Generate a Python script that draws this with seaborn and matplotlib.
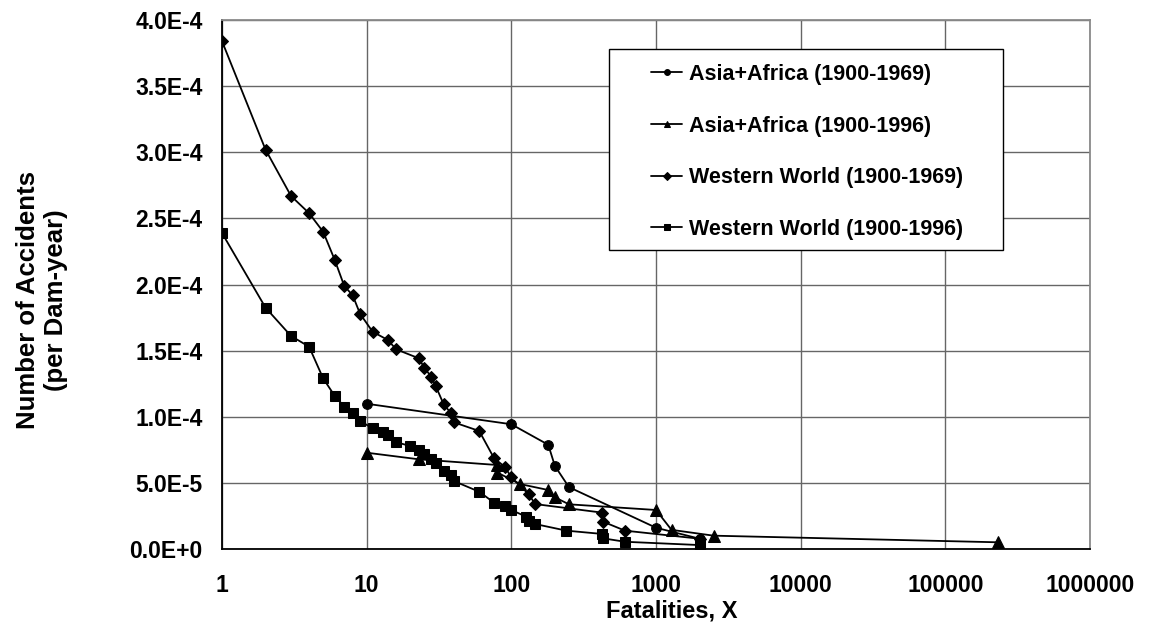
import numpy as np
import pandas as pd
import matplotlib
matplotlib.use("Agg")
import matplotlib.pyplot as plt
import matplotlib.ticker as mticker
from matplotlib.patches import Rectangle
import seaborn as sns

# ---- data ----
aa69_x = [10, 100, 180, 200, 250, 1000, 2000]
aa69_y = [1.10e-4, 0.945e-4, 0.79e-4, 0.63e-4, 0.47e-4, 0.163e-4, 0.08e-4]

aa96_x = [10, 23, 80, 80, 115, 180, 200, 250, 1000, 1280, 2500, 230000]
aa96_y = [0.73e-4, 0.68e-4, 0.637e-4, 0.58e-4, 0.493e-4, 0.448e-4, 0.393e-4,
          0.34e-4, 0.297e-4, 0.147e-4, 0.103e-4, 0.053e-4]

ww69_x = [1, 2, 3, 4, 5, 6, 7, 8, 9, 11, 14, 16, 23, 25, 28, 30, 34, 38, 40,
          60, 76, 90, 100, 132, 146, 425, 430, 610, 2000]
ww69_y = [3.84e-4, 3.02e-4, 2.67e-4, 2.54e-4, 2.40e-4, 2.19e-4, 1.99e-4, 1.92e-4,
          1.78e-4, 1.644e-4, 1.582e-4, 1.511e-4, 1.443e-4, 1.372e-4, 1.304e-4,
          1.234e-4, 1.098e-4, 1.032e-4, 0.96e-4, 0.894e-4, 0.688e-4, 0.624e-4,
          0.545e-4, 0.416e-4, 0.342e-4, 0.277e-4, 0.209e-4, 0.141e-4, 0.08e-4]

ww96_x = [1, 2, 3, 4, 5, 6, 7, 8, 9, 11, 13, 14, 16, 20, 23, 25, 28, 30, 34, 38,
          40, 60, 76, 90, 100, 127, 133, 146, 240, 425, 430, 610, 2000]
ww96_y = [2.39e-4, 1.826e-4, 1.612e-4, 1.531e-4, 1.292e-4, 1.161e-4, 1.078e-4,
          1.028e-4, 0.97e-4, 0.914e-4, 0.889e-4, 0.864e-4, 0.809e-4, 0.781e-4,
          0.753e-4, 0.72e-4, 0.68e-4, 0.65e-4, 0.592e-4, 0.561e-4, 0.516e-4,
          0.435e-4, 0.352e-4, 0.327e-4, 0.297e-4, 0.246e-4, 0.216e-4, 0.191e-4,
          0.141e-4, 0.116e-4, 0.083e-4, 0.057e-4, 0.032e-4]

series_labels = ["Asia+Africa (1900-1969)", "Asia+Africa (1900-1996)",
                 "Western World (1900-1969)", "Western World (1900-1996)"]
x_ticks = [1, 10, 100, 1000, 10000, 100000, 1000000]
y_ticks = [0, 0.5e-4, 1.0e-4, 1.5e-4, 2.0e-4, 2.5e-4, 3.0e-4, 3.5e-4, 4.0e-4]
x_title = "Fatalities, X"
y_title = "Number of Accidents\n(per Dam-year)"

# ---- style ----
sns.set_style("white")
plt.rcParams["font.family"] = ["Liberation Sans", "DejaVu Sans"]
plt.rcParams["font.weight"] = "bold"
for k in ["text.color", "axes.labelcolor", "xtick.color", "ytick.color"]:
    plt.rcParams[k] = "black"

W, H = 1152, 630
fig = plt.figure(figsize=(W / 100, H / 100), dpi=100)
ax = fig.add_axes([222 / W, 1 - 549.3 / H, (1090 - 222) / W, (549.3 - 20) / H])

markers = ["o", "^", "D", "s"]
msizes = [7, 8, 6.3, 7]
data_sets = [(aa69_x, aa69_y), (aa96_x, aa96_y), (ww69_x, ww69_y), (ww96_x, ww96_y)]
for (xs, ys), lab, mk, ms in zip(data_sets, series_labels, markers, msizes):
    df = pd.DataFrame({"x": xs, "y": ys})
    sns.lineplot(data=df, x="x", y="y", ax=ax, estimator=None, sort=False,
                 color="black", linewidth=1.3, marker=mk, markersize=ms,
                 markeredgecolor="black", markerfacecolor="black",
                 label=lab, zorder=3)

ax.set_xscale("log")
ax.set_xlim(1, 1e6)
ax.set_ylim(0, 4.0e-4)
ax.xaxis.set_major_locator(mticker.FixedLocator(x_ticks))
ax.xaxis.set_minor_locator(mticker.NullLocator())
ax.xaxis.set_major_formatter(mticker.FuncFormatter(lambda v, p: f"{int(round(v))}"))
ax.yaxis.set_major_locator(mticker.FixedLocator(y_ticks))


def sci_fmt(v, p):
    m, e = f"{v:.1E}".split("E")
    return f"{m}E{int(e):+d}"


ax.yaxis.set_major_formatter(mticker.FuncFormatter(sci_fmt))

ax.grid(True, which="major", color="#666666", linewidth=1.0)
ax.set_axisbelow(True)
for s in ["left", "bottom"]:
    ax.spines[s].set_color("black")
    ax.spines[s].set_linewidth(1.3)
for s in ["top", "right"]:
    ax.spines[s].set_color("#8a8a8a")
    ax.spines[s].set_linewidth(1.3)

ax.tick_params(axis="y", direction="inout", length=12, width=1.2, pad=8,
               labelsize=16.5, colors="black")
ax.tick_params(axis="x", direction="inout", length=12, width=1.2, pad=12,
               labelsize=16.5, colors="black")
for lab in ax.get_xticklabels() + ax.get_yticklabels():
    lab.set_fontweight("bold")
    lab.set_color("black")

ax.set_xlabel("")
ax.set_ylabel("")
fig.text(672 / W, 1 - 611 / H, x_title, ha="center", va="center",
         fontsize=17, fontweight="bold", color="black")
fig.text(42 / W, 1 - 300 / H, y_title, ha="center", va="center", rotation=90,
         fontsize=18.5, fontweight="bold", multialignment="center",
         linespacing=1.2, color="black")

# legend
handles, labels = ax.get_legend_handles_labels()
ax.get_legend().remove()
frame = Rectangle((609 / W, 1 - 250 / H), (1003 - 609) / W, (250 - 49) / H,
                  transform=fig.transFigure, facecolor="white",
                  edgecolor="black", linewidth=1.0, zorder=3)
fig.add_artist(frame)
leg = fig.legend(handles, labels, loc="upper left",
                 bbox_to_anchor=(651 / W, 1 - 64 / H), bbox_transform=fig.transFigure,
                 frameon=False, borderpad=0, borderaxespad=0,
                 prop={"size": 15.5, "weight": "bold"}, markerscale=0.6,
                 handlelength=1.45, handletextpad=0.3, labelspacing=1.42,
                 labelcolor="black")
leg.set_zorder(4)

fig.savefig("out.png", dpi=100)
